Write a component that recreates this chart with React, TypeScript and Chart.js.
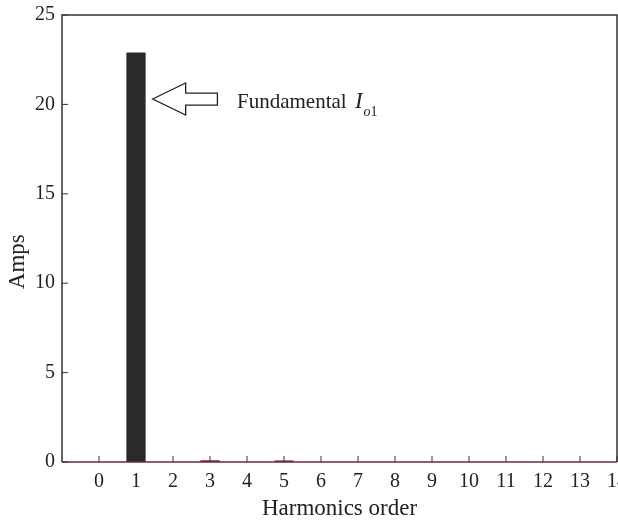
import React, { useEffect, useRef } from "react";
import { Chart, registerables } from "chart.js";

Chart.register(...registerables);

const harmonics = [0, 1, 2, 3, 4, 5, 6, 7, 8, 9, 10, 11, 12, 13, 14];
const amps = [0, 22.9, 0, 0.1, 0, 0.09, 0, 0, 0, 0, 0, 0, 0, 0, 0];
const yTicks = [0, 5, 10, 15, 20, 25];
const yTitle = "Amps";
const xTitle = "Harmonics order";
const annotationText = "Fundamental";
const annotationSymbol = "I";
const annotationSub = "o";
const annotationSubNum = "1";
// annotation anchors in data coordinates
const arrowTip = { x: 1.45, y: 20.3 };
const arrowTail = { x: 3.2, y: 20.3 };
const textAnchor = { x: 3.73, y: 19.8 };
const yTitleAnchor = 11.2;

const FONT = "'Liberation Serif', 'Times New Roman', serif";

const framePlugin = {
  id: "framePlugin",
  afterDraw(chart: any) {
    const { ctx, chartArea: a, scales } = chart;
    const xs = scales.x;
    const ys = scales.y;
    ctx.save();
    ctx.strokeStyle = "#333";
    ctx.lineWidth = 1.5;
    ctx.beginPath();
    ctx.moveTo(a.left, a.bottom);
    ctx.lineTo(a.left, a.top);
    ctx.lineTo(a.right, a.top);
    ctx.lineTo(a.right, a.bottom);
    ctx.stroke();
    ctx.strokeStyle = "#6b2a36";
    ctx.beginPath();
    ctx.moveTo(a.left, a.bottom);
    ctx.lineTo(a.right, a.bottom);
    ctx.stroke();
    ctx.strokeStyle = "#333";
    ctx.lineWidth = 1;
    harmonics.forEach((h) => {
      const px = xs.getPixelForValue(h);
      ctx.beginPath();
      ctx.moveTo(px, a.bottom);
      ctx.lineTo(px, a.bottom - 6);
      ctx.stroke();
    });
    yTicks.forEach((v) => {
      const py = ys.getPixelForValue(v);
      ctx.beginPath();
      ctx.moveTo(a.left, py);
      ctx.lineTo(a.left + 6, py);
      ctx.stroke();
    });
    // y title
    ctx.save();
    ctx.translate(18, ys.getPixelForValue(yTitleAnchor));
    ctx.rotate(-Math.PI / 2);
    ctx.fillStyle = "#222";
    ctx.font = `23px ${FONT}`;
    ctx.textAlign = "center";
    ctx.textBaseline = "middle";
    ctx.fillText(yTitle, 0, 0);
    ctx.restore();
    // arrow
    const tx = xs.getPixelForValue(arrowTip.x);
    const ty = ys.getPixelForValue(arrowTip.y);
    const ex = xs.getPixelForValue(arrowTail.x);
    const headLen = 33;
    const headHalf = 16;
    const shaftHalf = 6;
    ctx.lineWidth = 1.3;
    ctx.strokeStyle = "#222";
    ctx.fillStyle = "#fff";
    ctx.beginPath();
    ctx.moveTo(tx, ty);
    ctx.lineTo(tx + headLen, ty - headHalf);
    ctx.lineTo(tx + headLen, ty - shaftHalf);
    ctx.lineTo(ex, ty - shaftHalf);
    ctx.lineTo(ex, ty + shaftHalf);
    ctx.lineTo(tx + headLen, ty + shaftHalf);
    ctx.lineTo(tx + headLen, ty + headHalf);
    ctx.closePath();
    ctx.fill();
    ctx.stroke();
    const lx = xs.getPixelForValue(textAnchor.x);
    const ly = ys.getPixelForValue(textAnchor.y);
    ctx.fillStyle = "#222";
    ctx.textBaseline = "alphabetic";
    ctx.textAlign = "left";
    ctx.font = `21px ${FONT}`;
    ctx.fillText(annotationText, lx, ly);
    const w = ctx.measureText(annotationText + " ").width;
    ctx.font = `italic 23px ${FONT}`;
    ctx.fillText(annotationSymbol, lx + w + 3, ly);
    const wi = ctx.measureText(annotationSymbol).width;
    ctx.font = `italic 14px ${FONT}`;
    ctx.fillText(annotationSub, lx + w + 3 + wi + 1, ly + 8);
    const wo = ctx.measureText(annotationSub).width;
    ctx.font = `14px ${FONT}`;
    ctx.fillText(annotationSubNum, lx + w + 3 + wi + 1 + wo, ly + 8);
    ctx.restore();
  },
};

export default function App() {
  const ref = useRef<HTMLCanvasElement>(null);
  useEffect(() => {
    if (!ref.current) return;
    const chart = new Chart(ref.current, {
      type: "bar",
      data: {
        datasets: [
          {
            data: harmonics.map((h, i) => ({ x: h, y: amps[i] })),
            backgroundColor: amps.map((v) => (v > 1 ? "#2a2a2a" : "#8a2c3c")),
            borderWidth: 0,
            categoryPercentage: 1,
            barPercentage: 0.52,
          },
        ],
      },
      plugins: [framePlugin],
      options: {
        animation: false,
        responsive: false,
        maintainAspectRatio: false,
        layout: { padding: { top: 15, right: 23, left: 0, bottom: 0 } },
        plugins: { legend: { display: false }, tooltip: { enabled: false } },
        scales: {
          x: {
            type: "linear",
            min: -1,
            max: 14,
            offset: false,
            grid: { display: false, drawTicks: false },
            border: { display: false },
            afterFit: (s: any) => {
              s.height = 61;
            },
            ticks: {
              stepSize: 1,
              autoSkip: false,
              maxRotation: 0,
              padding: 8,
              color: "#222",
              font: { family: FONT, size: 20 },
              callback: (v: any) => (v >= 0 ? String(v) : ""),
            },
            title: {
              display: true,
              text: xTitle,
              color: "#222",
              font: { family: FONT, size: 23 },
              padding: { top: 0, bottom: 0 },
            },
          },
          y: {
            min: 0,
            max: 25,
            grid: { display: false, drawTicks: false },
            border: { display: false },
            afterFit: (s: any) => {
              s.width = 62;
              s.paddingTop = 0;
              s.paddingBottom = 0;
            },
            ticks: {
              stepSize: 5,
              padding: 7,
              color: "#222",
              font: { family: FONT, size: 20 },
            },
          },
        },
      },
    });
    return () => chart.destroy();
  }, []);
  return (
    <div
      style={{
        position: "fixed",
        left: 0,
        top: 0,
        width: 618,
        height: 523,
        overflow: "hidden",
        background: "#fff",
      }}
    >
      <canvas ref={ref} width={640} height={523} />
    </div>
  );
}
